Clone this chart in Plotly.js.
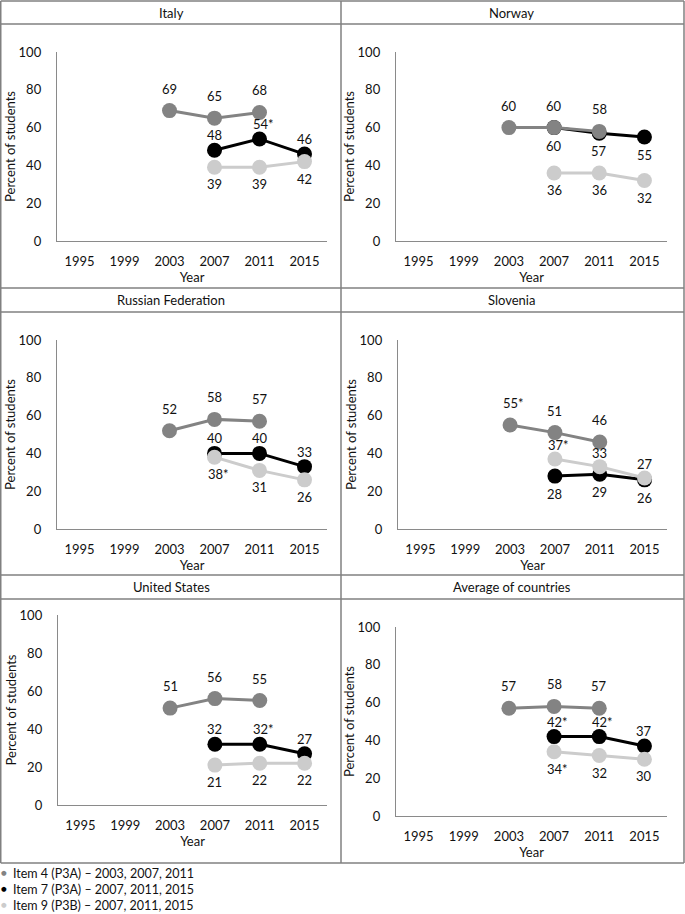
<!DOCTYPE html>
<html><head><meta charset="utf-8">
<script src="https://cdn.plot.ly/plotly-3.0.1.min.js"></script>
<style>html,body{margin:0;padding:0;background:#fff}#chart{width:685px;height:914px}</style>
</head><body><div id="chart"></div>
<script>
// ---------------- DATA ----------------
const years = ['1995', '1999', '2003', '2007', '2011', '2015'];
const panelTitles = ['Italy', 'Norway', 'Russian Federation', 'Slovenia', 'United States', 'Average of countries'];
const item4Years = ['2003', '2007', '2011'];
const item7Years = ['2007', '2011', '2015'];
const item9Years = ['2007', '2011', '2015'];
const item4Values = [[69, 65, 68], [60, 60, 58], [52, 58, 57], [55, 51, 46], [51, 56, 55], [57, 58, 57]];
const item7Values = [[48, 54, 46], [60, 57, 55], [40, 40, 33], [28, 29, 26], [32, 32, 27], [42, 42, 37]];
const item9Values = [[39, 39, 42], [36, 36, 32], [38, 31, 26], [37, 33, 27], [21, 22, 22], [34, 32, 30]];
// significance asterisks (1 = marked with *)
const item4Stars = [[0, 0, 0], [0, 0, 0], [0, 0, 0], [1, 0, 0], [0, 0, 0], [0, 0, 0]];
const item7Stars = [[0, 1, 0], [0, 0, 0], [0, 0, 0], [0, 0, 0], [0, 1, 0], [1, 1, 0]];
const item9Stars = [[0, 0, 0], [0, 0, 0], [1, 0, 0], [1, 0, 0], [0, 0, 0], [1, 0, 0]];
const legendNames = ['Item 4 (P3A) \u2013 2003, 2007, 2011', 'Item 7 (P3A) \u2013 2007, 2011, 2015', 'Item 9 (P3B) \u2013 2007, 2011, 2015'];
const yTitle = 'Percent of students';
const xTitle = 'Year';

// ---------------- LAYOUT / STYLE ----------------
const W = 685, H = 914;
const FONT = 'Lato, "Open Sans", sans-serif';
const FRAME = '#808080';
const AXIS = '#8a8a8a';
const colors = { i4: '#838383', i7: '#000000', i9: '#cccccc' };
// label side per panel: 1 above, -1 below
const side4 = [1, 1, 1, 1, 1, 1];
const side7 = [1, -1, 1, -1, 1, 1];
const side9 = [-1, -1, -1, 1, -1, -1];
// label offsets (px) above / below the marker, per series
const upShift = { i4: 22, i7: 15, i9: 14 };
const downShift = { i4: 18, i7: 18, i9: 17 };
// pixel boxes of each plot area [x0,x1,yTop,yBottom]
const boxes = [
  [57, 327, 52, 241], [396, 667, 52, 241],
  [57, 327, 340, 529], [398, 667, 340, 529],
  [58, 327, 615, 805], [396, 667, 627, 816]
];
const px = v => v / W, py = v => 1 - v / H;

const series = [
  { key: 'i7', years: item7Years, vals: item7Values, stars: item7Stars, side: side7, name: legendNames[1] },
  { key: 'i4', years: item4Years, vals: item4Values, stars: item4Stars, side: side4, name: legendNames[0] },
  { key: 'i9', years: item9Years, vals: item9Values, stars: item9Stars, side: side9, name: legendNames[2] }
];

const data = [];
const annotations = [];
const layout = {
  width: W, height: H,
  margin: { l: 0, r: 0, t: 0, b: 0, autoexpand: false },
  paper_bgcolor: '#fff', plot_bgcolor: 'rgba(0,0,0,0)',
  font: { family: FONT, size: 13, color: '#111' },
  showlegend: false,
  shapes: [],
  annotations: annotations
};

boxes.forEach((b, p) => {
  const sfx = p === 0 ? '' : String(p + 1);
  layout['xaxis' + sfx] = {
    domain: [px(b[0]), px(b[1])], anchor: 'y' + sfx,
    type: 'category', categoryarray: years, categoryorder: 'array', range: [-0.5, 5.5],
    showline: true, linecolor: AXIS, linewidth: 1.2, showgrid: false, zeroline: false,
    ticks: '', ticklabelstandoff: 8, tickfont: { family: FONT, size: 13, color: '#111' },
    title: { text: xTitle, font: { family: FONT, size: 13, color: '#111' }, standoff: 2 },
    fixedrange: true
  };
  layout['yaxis' + sfx] = {
    domain: [py(b[3]), py(b[2])], anchor: 'x' + sfx,
    range: [0, 100], dtick: 20, tick0: 0,
    showline: true, linecolor: AXIS, linewidth: 1.2, showgrid: false, zeroline: false,
    ticks: '', ticklabelstandoff: 12, tickfont: { family: FONT, size: 13, color: '#111' },
    automargin: true,
    title: { text: yTitle, font: { family: FONT, size: 13, color: '#111' }, standoff: 0 },
    fixedrange: true
  };
  series.forEach(s => {
    data.push({
      type: 'scatter', mode: 'lines+markers', xaxis: 'x' + sfx, yaxis: 'y' + sfx,
      x: s.years, y: s.vals[p], name: s.name, showlegend: false,
      line: { color: colors[s.key], width: 3 },
      marker: { color: colors[s.key], size: 15 },
      cliponaxis: false, hoverinfo: 'skip'
    });
    s.years.forEach((yr, i) => {
      const star = s.stars[p][i] === 1;
      annotations.push({
        xref: 'x' + sfx, yref: 'y' + sfx, x: years.indexOf(yr), y: s.vals[p][i],
        text: String(s.vals[p][i]) + (star ? '*' : ''),
        showarrow: false, xanchor: 'center', yanchor: 'middle', xshift: star ? 3.5 : 0,
        yshift: s.side[p] > 0 ? upShift[s.key] : -downShift[s.key],
        font: { family: FONT, size: 13, color: '#111' }
      });
    });
  });
});

// legend (text block with coloured bullets, as in the reference)
[['i4', 0], ['i7', 1], ['i9', 2]].forEach(([k, n], j) => {
  annotations.push({
    xref: 'paper', yref: 'paper', x: px(4), y: py(873 + 16 * j), xanchor: 'center', yanchor: 'middle',
    showarrow: false, text: '\u25CF', font: { family: 'DejaVu Sans', size: 6.5, color: colors[k] }
  });
  annotations.push({
    xref: 'paper', yref: 'paper', x: px(11), y: py(873 + 16 * j), xanchor: 'left', yanchor: 'middle',
    showarrow: false, align: 'left', text: legendNames[n],
    font: { family: FONT, size: 12.5, color: '#111' }
  });
});

// panel frames
const hLine = (y, x0, x1) => ({ type: 'line', xref: 'paper', yref: 'paper', x0: px(x0), x1: px(x1), y0: py(y), y1: py(y), line: { color: FRAME, width: 1.5 } });
const vLine = (x, y0, y1) => ({ type: 'line', xref: 'paper', yref: 'paper', x0: px(x), x1: px(x), y0: py(y0), y1: py(y1), line: { color: FRAME, width: 1.5 } });
[1, 24, 288, 312, 575, 599, 863].forEach(y => layout.shapes.push(hLine(y, 0.75, 684)));
[0.75, 341, 684].forEach(x => layout.shapes.push(vLine(x, 1, 863)));

// panel titles
const titleRows = [[1, 24], [288, 312], [575, 599]];
panelTitles.forEach((t, i) => {
  const r = titleRows[Math.floor(i / 2)];
  const cx = i % 2 === 0 ? 171 : 512;
  annotations.push({
    xref: 'paper', yref: 'paper', x: px(cx), y: py((r[0] + r[1]) / 2),
    text: t, showarrow: false, xanchor: 'center', yanchor: 'middle',
    font: { family: FONT, size: 13, color: '#111' }
  });
});

Plotly.newPlot('chart', data, layout, { displayModeBar: false, staticPlot: true });
</script>
</body></html>
